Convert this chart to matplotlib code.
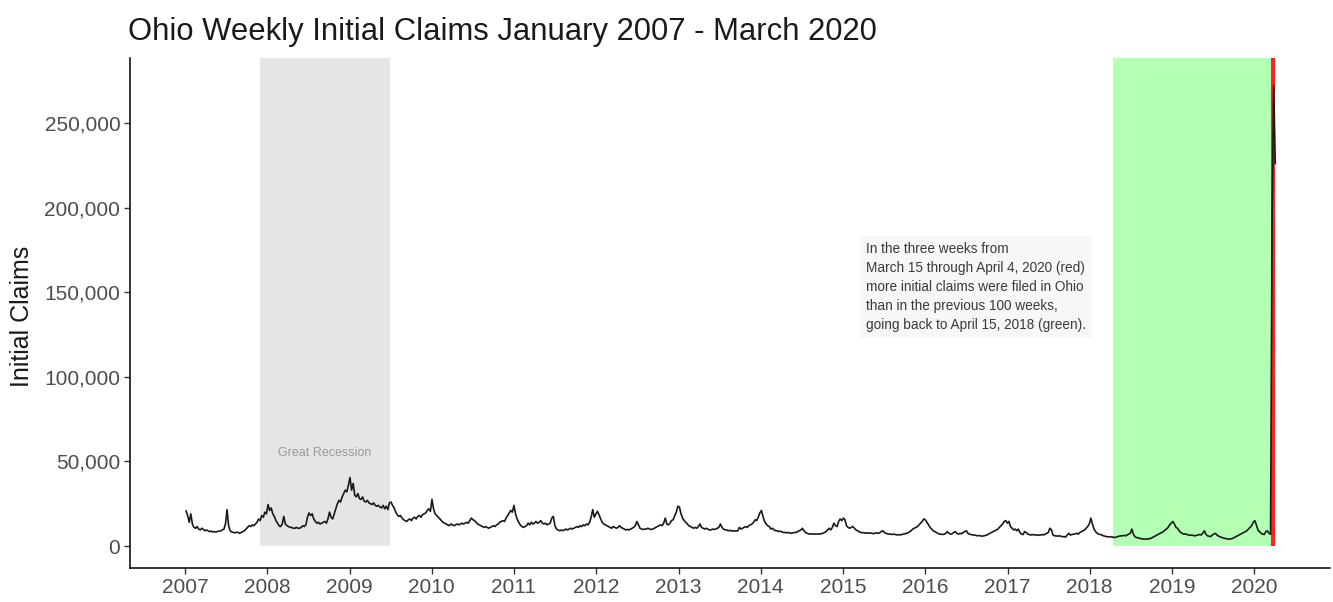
# -*- coding: utf-8 -*-
import matplotlib
matplotlib.use("Agg")
import matplotlib.pyplot as plt
from matplotlib.ticker import FuncFormatter
import numpy as np
import pandas as pd

plt.rcParams['font.family'] = ['Liberation Sans', 'DejaVu Sans']

#%% Datos: solicitudes iniciales semanales de Ohio (miles)
claims_2007 = [20.7, 18.0, 14.0, 19.0, 13.0, 11.0, 10.5, 11.5, 10.0, 9.5,
               10.5, 9.8, 9.0, 9.5, 9.0, 8.5, 8.8, 8.3, 8.5, 8.3,
               8.6, 8.8, 9.0, 9.5, 10.0, 13.0, 21.5, 12.0, 9.0, 8.3,
               8.0, 7.8, 8.2, 8.0, 7.5, 8.0, 8.5, 9.0, 10.0, 11.0,
               12.0, 11.5, 12.5, 12.0, 13.0, 14.0, 16.0, 15.0, 18.0, 17.0,
               20.0, 19.0]
claims_2008 = [24.5, 21.0, 22.5, 19.0, 17.5, 15.0, 13.5, 12.0, 11.5, 13.0,
               17.5, 13.0, 12.0, 11.5, 11.0, 11.0, 10.5, 10.5, 11.0, 10.5,
               10.5, 11.0, 12.0, 11.5, 12.5, 17.0, 19.5, 18.0, 19.0, 16.0,
               14.5, 13.5, 14.0, 13.0, 13.5, 14.0, 14.5, 13.5, 16.0, 20.0,
               17.0, 16.0, 19.0, 22.0, 25.0, 27.0, 26.0, 29.0, 31.0, 33.0,
               32.0, 36.0]
claims_2009 = [40.5, 33.0, 37.0, 30.0, 29.0, 31.0, 28.0, 27.5, 29.0, 26.5,
               26.0, 27.0, 25.5, 25.0, 24.5, 25.5, 24.0, 23.5, 24.0, 23.0,
               22.5, 24.0, 22.0, 23.5, 21.5, 25.5, 26.0, 24.0, 22.5, 20.0,
               18.5, 17.5, 18.0, 16.5, 15.5, 15.0, 14.5, 15.5, 16.0, 15.0,
               16.5, 17.0, 16.0, 17.5, 18.0, 17.0, 18.5, 19.0, 19.5, 21.0,
               22.0, 20.5]
claims_2010 = [27.5, 22.0, 19.0, 18.0, 17.0, 16.0, 15.0, 14.0, 13.5, 13.0,
               12.5, 12.0, 13.0, 12.5, 12.0, 12.5, 13.0, 12.5, 13.0, 13.5,
               13.0, 13.5, 14.0, 13.5, 15.0, 16.5, 15.5, 15.0, 14.0, 13.0,
               12.5, 12.0, 11.5, 11.0, 11.5, 11.0, 10.5, 11.0, 11.5, 12.0,
               11.5, 12.5, 13.0, 14.0, 14.5, 15.0, 14.5, 16.5, 18.0, 19.5,
               21.0, 20.0]
claims_2011 = [24.0, 19.0, 16.0, 14.0, 12.5, 11.5, 11.0, 11.5, 12.0, 13.5,
               12.5, 14.0, 13.0, 13.5, 14.5, 13.5, 14.0, 15.0, 13.5, 13.0,
               13.5, 12.5, 13.0, 13.5, 16.5, 17.5, 12.0, 10.0, 9.5, 9.0,
               9.5, 9.0, 9.5, 10.0, 9.5, 10.0, 10.5, 10.0, 10.5, 11.0,
               11.5, 11.0, 12.0, 11.5, 12.5, 12.0, 13.0, 12.5, 14.0, 17.0,
               21.5, 17.0, 19.0]
claims_2012 = [20.5, 18.5, 16.0, 14.0, 13.0, 12.5, 12.0, 11.5, 11.0, 10.5,
               11.5, 11.0, 10.5, 11.0, 12.0, 11.0, 10.5, 10.0, 9.5, 9.8,
               9.5, 10.0, 10.5, 11.0, 12.0, 14.5, 12.5, 10.5, 10.0, 9.8,
               10.0, 10.0, 10.5, 10.0, 9.8, 10.0, 10.5, 11.0, 11.5, 12.0,
               12.5, 12.0, 13.5, 16.5, 13.0, 12.5, 13.5, 15.0, 15.5, 18.0,
               20.0, 23.5]
claims_2013 = [23.0, 19.0, 16.5, 15.0, 14.0, 13.0, 12.0, 11.5, 11.0, 10.5,
               11.0, 10.5, 11.5, 13.0, 11.0, 10.5, 10.0, 10.5, 10.0, 9.5,
               9.5, 10.0, 9.8, 10.0, 10.5, 11.0, 13.0, 11.0, 10.0, 9.5,
               9.5, 9.0, 9.3, 9.0, 8.8, 9.0, 8.8, 9.0, 11.0, 10.0,
               10.5, 11.0, 11.5, 11.0, 12.0, 12.5, 13.0, 14.0, 15.5, 15.0,
               17.0, 19.5]
claims_2014 = [21.0, 17.5, 14.5, 13.0, 12.0, 11.5, 10.0, 10.5, 9.5, 9.0,
               9.0, 8.5, 8.8, 8.3, 8.0, 8.0, 7.8, 8.0, 7.7, 7.5,
               7.8, 8.0, 8.0, 8.5, 9.0, 9.5, 10.5, 9.0, 8.0, 7.5,
               7.2, 7.0, 7.2, 7.0, 7.1, 7.0, 7.2, 7.0, 7.3, 7.5,
               8.0, 8.5, 9.5, 10.5, 9.5, 11.0, 13.5, 12.0, 11.5, 14.5,
               16.0, 15.0]
claims_2015 = [16.5, 15.5, 12.0, 11.0, 10.5, 11.0, 11.5, 10.5, 9.5, 9.0,
               8.5, 8.0, 7.8, 8.0, 7.5, 7.8, 7.5, 7.8, 7.5, 7.3,
               7.5, 7.8, 7.5, 7.8, 8.5, 9.0, 8.0, 7.5, 7.2, 7.0,
               7.0, 6.8, 7.0, 6.8, 6.5, 6.8, 6.5, 6.8, 7.0, 7.2,
               7.5, 7.8, 8.5, 9.0, 10.0, 10.5, 11.0, 11.5, 12.5, 13.5,
               14.5, 16.0]
claims_2016 = [15.5, 14.0, 12.5, 11.0, 10.0, 9.0, 8.5, 8.0, 7.5, 7.0,
               7.0, 6.8, 7.0, 7.5, 8.5, 7.5, 7.0, 7.2, 8.0, 8.5,
               7.5, 7.0, 7.5, 7.2, 8.0, 8.5, 9.0, 7.5, 7.0, 6.8,
               6.5, 6.5, 6.3, 6.0, 6.2, 6.0, 5.8, 6.0, 6.2, 6.5,
               7.0, 7.5, 8.0, 8.5, 9.0, 9.5, 10.0, 11.0, 12.0, 13.0,
               14.5, 15.0, 13.5]
claims_2017 = [14.5, 11.5, 10.5, 9.5, 10.0, 9.0, 10.0, 8.0, 7.0, 6.8,
               8.5, 8.0, 7.0, 6.8, 6.5, 6.8, 6.5, 6.7, 6.3, 6.5,
               6.5, 6.8, 6.5, 7.0, 7.5, 8.0, 10.5, 9.5, 6.5, 6.0,
               6.0, 5.8, 6.0, 5.8, 5.5, 5.5, 5.3, 6.5, 7.5, 6.5,
               6.8, 7.0, 7.2, 7.5, 7.0, 8.0, 8.5, 9.0, 9.5, 10.5,
               11.5, 13.0]
claims_2018 = [16.5, 13.0, 10.0, 8.5, 7.5, 7.0, 6.8, 6.5, 6.0, 5.8,
               5.5, 5.5, 5.3, 5.5, 5.2, 5.0, 5.3, 5.5, 5.8, 6.0,
               6.0, 6.3, 6.0, 6.5, 7.0, 7.5, 10.0, 7.0, 5.5, 5.0,
               4.8, 4.5, 4.3, 4.2, 4.0, 4.2, 4.0, 4.3, 4.5, 5.0,
               5.5, 6.0, 6.5, 7.0, 7.5, 8.0, 8.5, 9.5, 10.0, 11.0,
               12.5, 13.5]
claims_2019 = [14.5, 13.0, 11.0, 10.5, 9.0, 8.0, 7.5, 7.0, 7.2, 6.8,
               6.5, 6.3, 6.5, 6.2, 6.0, 6.3, 6.5, 6.8, 6.5, 7.5,
               9.0, 7.0, 6.0, 5.8, 5.5, 6.5, 7.0, 7.5, 6.5, 5.8,
               5.5, 5.0, 4.8, 4.5, 4.3, 4.2, 4.0, 4.3, 4.5, 5.0,
               5.5, 6.0, 6.5, 7.0, 7.5, 8.0, 8.5, 9.0, 10.0, 11.0,
               12.0, 14.0]
claims_2020 = [15.0, 12.5, 9.5, 8.5, 7.5, 7.0, 6.8, 8.5, 9.0, 7.5,
               7.0, 196.3, 272.1, 226.0]

years = list(range(2007, 2021))
weekly = [claims_2007, claims_2008, claims_2009, claims_2010, claims_2011,
          claims_2012, claims_2013, claims_2014, claims_2015, claims_2016,
          claims_2017, claims_2018, claims_2019, claims_2020]

recession = ("2007-12-01", "2009-06-30")
prev_100_weeks = ("2018-04-15", "2020-03-15")
three_weeks = ("2020-03-15", "2020-04-04")

nota = ("In the three weeks from\n"
        "March 15 through April 4, 2020 (red)\n"
        "more initial claims were filed in Ohio\n"
        "than in the previous 100 weeks,\n"
        "going back to April 15, 2018 (green).")

#%% Armo el df con las semanas (terminan en sabado)
fechas = []
valores = []
for year, vals in zip(years, weekly):
    fechas.extend(pd.date_range(f"{year}-01-01", periods=len(vals), freq="W-SAT"))
    valores.extend(vals)
df = pd.DataFrame({"week": fechas, "claims": np.array(valores) * 1000})

#%% Grafico
y_lo, y_hi = -13000, 288400

fig = plt.figure(figsize=(13.33, 6.02), dpi=100)
ax = fig.add_axes([130 / 1333, 1 - 568 / 602, 1200 / 1333, 510 / 602])

def franja(ax, inicio, fin, color):
    xs = [pd.Timestamp(inicio), pd.Timestamp(fin)]
    ax.fill_between(xs, 0, y_hi, color=color, linewidth=0, zorder=1)

franja(ax, *recession, "#e5e5e5")
franja(ax, *prev_100_weeks, "#b3ffb3")
franja(ax, *three_weeks, "#ff2020")

ax.plot(df.week, df.claims, color="#1a1a1a", linewidth=1.2, zorder=3)

mid_rec = pd.Timestamp(recession[0]) + (pd.Timestamp(recession[1]) - pd.Timestamp(recession[0])) / 2
ax.text(mid_rec, 55000, "Great Recession", ha="center", va="center",
        fontsize=9, color="#9a9a9a", zorder=4)

ax.text(pd.Timestamp("2015-04-13"), 153000, nota, ha="left", va="center",
        fontsize=9.8, color="#3a3a3a", linespacing=1.45, zorder=4,
        bbox=dict(boxstyle="square,pad=0.45", facecolor="#f7f7f7", edgecolor="none"))

ax.set_xlim(pd.Timestamp("2006-05-02"), pd.Timestamp("2020-12-03"))
ax.set_ylim(y_lo, y_hi)
ax.set_xticks([pd.Timestamp(f"{y}-01-01") for y in years])
ax.set_xticklabels([str(y) for y in years])
ax.set_yticks(np.arange(0, 250001, 50000))
ax.yaxis.set_major_formatter(FuncFormatter(lambda v, p: f"{int(v):,}"))

for lado in ["top", "right"]:
    ax.spines[lado].set_visible(False)
for lado in ["left", "bottom"]:
    ax.spines[lado].set_linewidth(1.1)
    ax.spines[lado].set_color("black")
ax.tick_params(length=4, width=1, color="#333333", labelcolor="#4d4d4d",
               labelsize=15, pad=3)

fig.text(128 / 1333, 1 - 40 / 602, "Ohio Weekly Initial Claims January 2007 - March 2020",
         fontsize=22.3, color="#1a1a1a", ha="left", va="baseline")
fig.text(22 / 1333, 1 - 316 / 602, "Initial Claims", rotation=90,
         fontsize=18, color="#1a1a1a", ha="center", va="center")

fig.savefig("out.png", dpi=100)
